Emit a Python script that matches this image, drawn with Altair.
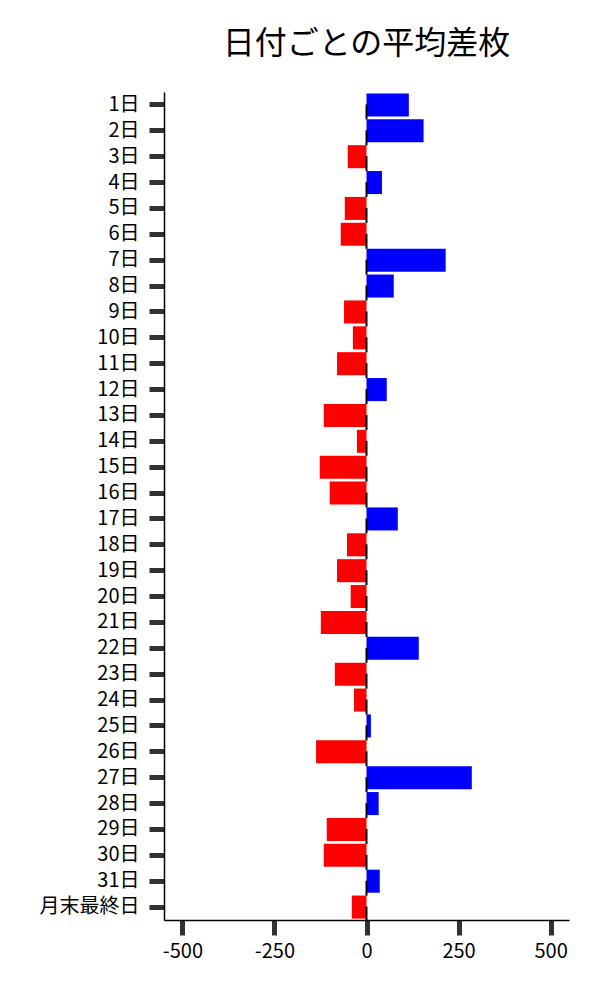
import altair as alt
import pandas as pd

days = [f"{i}日" for i in range(1, 32)] + ["月末最終日"]
values = [115, 155, -51, 42, -59, -70, 215, 74, -61, -37,
          -80, 55, -116, -26, -127, -100, 85, -53, -80, -43,
          -124, 142, -86, -34, 12, -137, 286, 33, -108, -116,
          36, -40]

df = pd.DataFrame({"day": days, "value": values})

FONT = "Noto Sans CJK JP"
XDOM = [-550, 550]

y_enc = alt.Y("day:N", sort=days, title=None,
              scale=alt.Scale(paddingInner=0.11, paddingOuter=0.055),
              axis=alt.Axis(labelFontSize=20, labelFont=FONT, labelColor="black",
                            labelPadding=10, tickSize=15, tickWidth=5,
                            tickColor="#333333", domainColor="black",
                            domainWidth=1.5, grid=False))
x_enc = alt.X("value:Q", title=None,
              scale=alt.Scale(domain=XDOM, nice=False, zero=False),
              axis=alt.Axis(values=[-500, -250, 0, 250, 500], labelFontSize=20,
                            labelFont=FONT, labelColor="black", labelPadding=6,
                            labelExpr="datum.value < 0 ? '-' + abs(datum.value) : '' + datum.value",
                            tickSize=15, tickWidth=5, tickColor="#333333",
                            domainColor="black", domainWidth=1.5, grid=False))

zero_marks = alt.Chart(df).mark_tick(color="black", thickness=2, size=15,
                                     yOffset=7, opacity=1).encode(
    x=alt.X("zero:Q", scale=alt.Scale(domain=XDOM, nice=False)),
    y=alt.Y("day:N", sort=days),
).transform_calculate(zero="0")

bars = alt.Chart(df).mark_bar().encode(
    x=x_enc,
    y=y_enc,
    color=alt.condition(alt.datum.value > 0, alt.value("#0000ff"), alt.value("#ff0000")),
)

chart = alt.layer(bars, zero_marks).properties(
    width=405, height=828,
    title=alt.TitleParams("日付ごとの平均差枚", font=FONT, fontSize=32,
                          fontWeight="normal", color="black", offset=31),
    padding={"left": 31, "top": 20, "right": 5, "bottom": 5},
).configure_view(stroke=None)

chart.save("out.html", embed_options={"renderer": "svg", "actions": False})
